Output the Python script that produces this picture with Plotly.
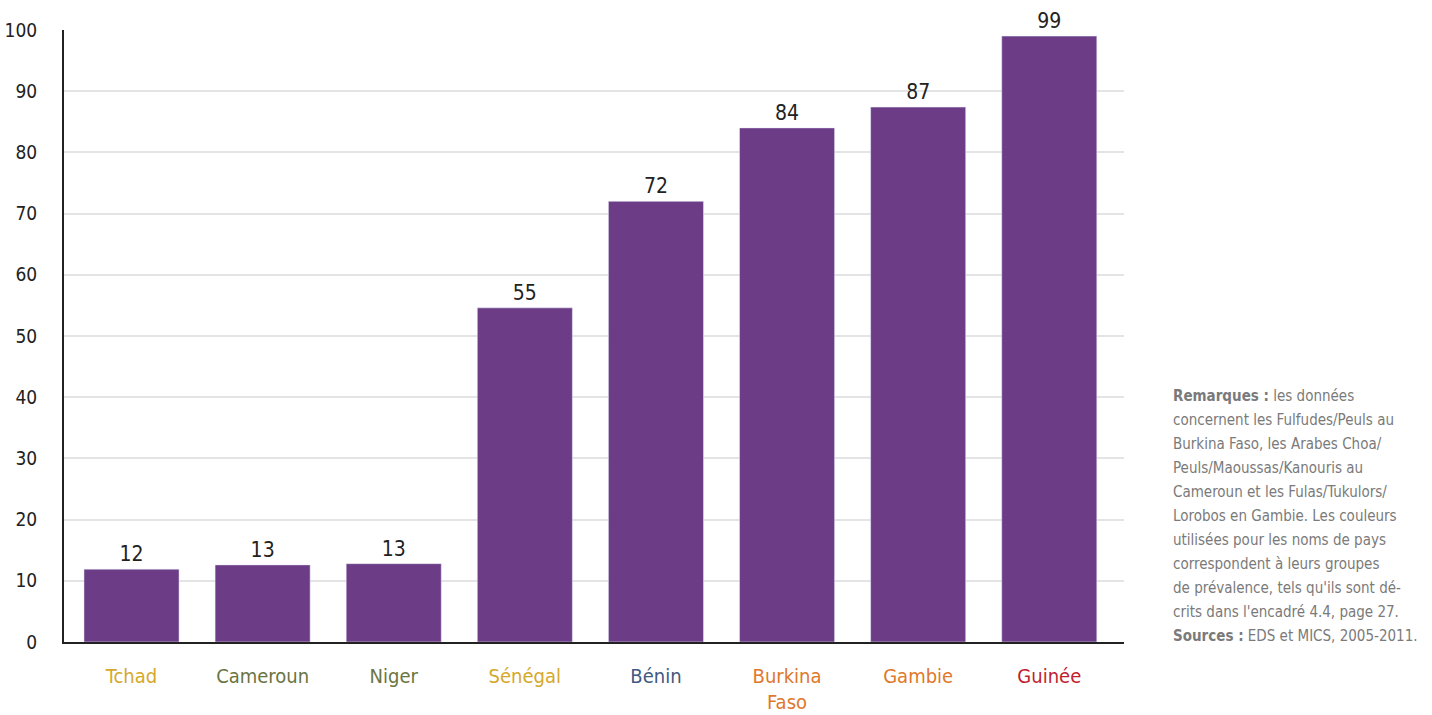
import plotly.graph_objects as go

# Pays et pourcentages
countries = ["Tchad", "Cameroun", "Niger", "Sénégal", "Bénin", "Burkina<br>Faso", "Gambie", "Guinée"]
values = [11.9, 12.6, 12.8, 54.6, 72.0, 84.0, 87.4, 99.0]
label_colors = ["#d5a82a", "#6a7442", "#6a7442", "#d5a82a", "#42597f", "#e0782b", "#e0782b", "#bf1e2e"]
y_ticks = [0, 10, 20, 30, 40, 50, 60, 70, 80, 90, 100]

note_lines = [
    "<b>Remarques :</b> les données",
    "concernent les Fulfudes/Peuls au",
    "Burkina Faso, les Arabes Choa/",
    "Peuls/Maoussas/Kanouris au",
    "Cameroun et les Fulas/Tukulors/",
    "Lorobos en Gambie. Les couleurs",
    "utilisées pour les noms de pays",
    "correspondent à leurs groupes",
    "de prévalence, tels qu'ils sont dé-",
    "crits dans l'encadré 4.4, page 27.",
    "<b>Sources :</b> EDS et MICS, 2005-2011.",
]

FONT = "DejaVu Sans Condensed, Liberation Sans Narrow, Roboto, sans-serif"
PLOT_H = 612  # plot-area height in px, used for note line spacing

tick_text = [f"<span style='color:{c}'>{n}</span>" for n, c in zip(countries, label_colors)]

fig = go.Figure(
    go.Bar(
        x=list(range(len(countries))),
        y=values,
        marker_color="#6c3c87",
        text=[f"{v:.0f}" for v in values],
        textposition="outside",
        textfont=dict(size=21, color="#222222", family=FONT),
        cliponaxis=False,
        hoverinfo="skip",
    )
)

annotations = []
n = len(note_lines)
for i, line in enumerate(note_lines):
    annotations.append(
        dict(
            text=line,
            xref="paper",
            yref="paper",
            x=1.0 + 47 / 1060,
            y=(6 + 24 * (n - 1 - i)) / PLOT_H,
            xanchor="left",
            yanchor="middle",
            align="left",
            showarrow=False,
            font=dict(size=15, color="#7a7a7a", family=FONT),
        )
    )

fig.update_layout(
    width=1432,
    height=715,
    margin=dict(l=64, r=308, t=30, b=73),
    paper_bgcolor="white",
    plot_bgcolor="white",
    bargap=0.275,
    showlegend=False,
    font=dict(family=FONT, color="#222222"),
    xaxis=dict(
        tickmode="array",
        tickvals=list(range(len(countries))),
        ticktext=tick_text,
        range=[-0.515, 7.57],
        showgrid=False,
        showline=True,
        linecolor="#222222",
        linewidth=2,
        ticks="",
        automargin=False,
        ticklabelstandoff=15,
        tickfont=dict(size=20, family=FONT),
    ),
    yaxis=dict(
        range=[0, 100],
        tickmode="array",
        tickvals=y_ticks,
        showgrid=True,
        gridcolor="#e4e4e6",
        gridwidth=2,
        showline=True,
        linecolor="#222222",
        linewidth=2,
        zeroline=False,
        ticks="",
        automargin=False,
        ticklabelstandoff=21,
        tickfont=dict(size=19, color="#222222", family=FONT),
    ),
    annotations=annotations,
)

fig.write_html("out.html")
